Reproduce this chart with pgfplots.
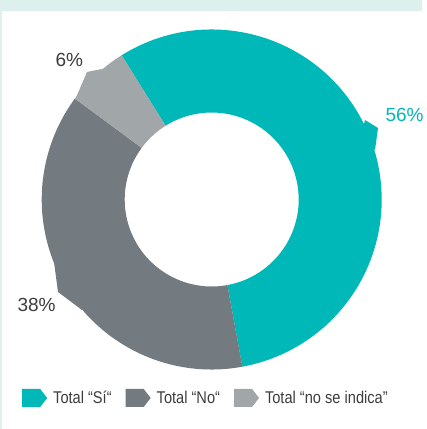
\documentclass[border=0pt]{standalone}
\usepackage{pgfplots}
\pgfplotsset{compat=1.18}
\usepackage{pgfplotstable}
\usetikzlibrary{calc}
\usepackage{fontspec}
\setmainfont{Liberation Sans}
\newfontfamily\narrowfont[FakeStretch=0.86]{Liberation Sans}
\definecolor{cSi}{HTML}{00B8B7}
\definecolor{cNo}{HTML}{737A80}
\definecolor{cNI}{HTML}{A1A6A9}
\definecolor{bgTeal}{HTML}{DDF0EE}
\definecolor{txt}{HTML}{3D3D3D}

\pgfplotstableread{
label value
Si 56
No 38
NI 6
}\donutdata

\newcommand\donutslice[3]{%
  \fill[#3] ($(axis cs:211.7,229.5)+(#1:170pt)$) arc[start angle=#1,end angle=#2,radius=170pt]
    -- ($(axis cs:211.7,229.5)+(#2:87pt)$) arc[start angle=#2,end angle=#1,radius=87pt] -- cycle;}

\begin{document}
\begin{tikzpicture}
\pgfplotstablegetelem{0}{value}\of\donutdata \let\vSi\pgfplotsretval
\pgfplotstablegetelem{1}{value}\of\donutdata \let\vNo\pgfplotsretval
\pgfplotstablegetelem{2}{value}\of\donutdata \let\vNI\pgfplotsretval
\pgfmathsetmacro\aA{122}
\pgfmathsetmacro\aB{\aA-3.6*\vSi}
\pgfmathsetmacro\aC{\aB-3.6*\vNo}
\pgfmathsetmacro\aD{\aC-3.6*\vNI}
\begin{axis}[
  scale only axis, width=422pt, height=429pt,
  xmin=0, xmax=422, ymin=0, ymax=429,
  hide axis, clip=false,
  legend style={at={(0.0521,0.0723)}, anchor=west, draw=none, fill=none,
    inner sep=0pt, legend columns=3,
    font=\narrowfont\fontsize{17}{20}\selectfont\color{txt},
    /tikz/every odd column/.append style={column sep=6pt},
    /tikz/every even column/.append style={column sep=14pt},
    nodes={inner sep=0pt}},
  legend cell align=left,
  legimg/.style={legend image code/.code={\fill[##1] (0pt,-9pt) -- (18pt,-9pt) -- (25pt,0pt) -- (18pt,9pt) -- (0pt,9pt) -- cycle;}},
]
\fill[bgTeal] (axis cs:0,0) rectangle (axis cs:422,429);
\fill[white] (axis cs:2,0) rectangle (axis cs:422,418);
\donutslice{\aA}{\aB}{cSi}
\donutslice{\aB}{\aC}{cNo}
\donutslice{\aC}{\aD}{cNI}
% callout tabs
\addplot[fill=cSi, draw=none, forget plot] coordinates {(365,309) (378,301) (375,279) (360,289)} -- cycle;
\addplot[fill=cNo, draw=none, forget plot] coordinates {(54,167) (58,137) (82,119) (75,149)} -- cycle;
\addplot[fill=cNI, draw=none, forget plot] coordinates {(75,329) (87,357) (102,360) (95,344)} -- cycle;
\node[anchor=base west, text=cSi, font=\fontsize{19}{22}\selectfont] at (axis cs:382,307) {56\%};
\node[anchor=base west, text=txt, font=\fontsize{19}{22}\selectfont] at (axis cs:52,362) {6\%};
\node[anchor=base west, text=txt, font=\fontsize{19}{22}\selectfont] at (axis cs:14,117) {38\%};
\addlegendimage{legimg, fill=cSi, draw=none}
\addlegendentry{Total “Sí“}
\addlegendimage{legimg, fill=cNo, draw=none}
\addlegendentry{Total “No“}
\addlegendimage{legimg, fill=cNI, draw=none}
\addlegendentry{Total “no se indica”}
\end{axis}
\end{tikzpicture}
\end{document}
